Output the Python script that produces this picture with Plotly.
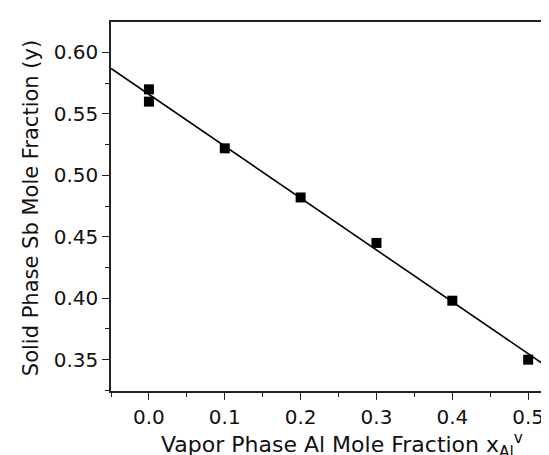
import plotly.graph_objects as go

# Measured data (vapor phase Al mole fraction vs solid phase Sb mole fraction)
x_vapor_al = [0.0, 0.0, 0.1, 0.2, 0.3, 0.4, 0.5]
y_solid_sb = [0.570, 0.560, 0.522, 0.482, 0.445, 0.398, 0.350]

# Linear fit line, end points
fit_x = [-0.05, 0.54]
fit_y = [0.587, 0.338]

x_ticks = [0.0, 0.1, 0.2, 0.3, 0.4, 0.5]
y_ticks = [0.35, 0.40, 0.45, 0.50, 0.55, 0.60]

x_title = "Vapor Phase Al Mole Fraction x<sub>Al</sub><sup>v</sup>"
y_title = "Solid Phase Sb Mole Fraction (y)"

FONT = "DejaVu Sans"

fig = go.Figure()
fig.add_trace(go.Scatter(
    x=fit_x, y=fit_y, mode="lines",
    line=dict(color="black", width=1.6),
    showlegend=False, hoverinfo="skip",
))
fig.add_trace(go.Scatter(
    x=x_vapor_al, y=y_solid_sb, mode="markers",
    marker=dict(symbol="square", size=10, color="black"),
    showlegend=False,
))

axis_common = dict(
    showgrid=False, zeroline=False,
    showline=True, linecolor="#222", linewidth=1.5,
    ticks="outside", ticklen=7, tickwidth=1.3, tickcolor="#222",
    tickfont=dict(family=FONT, size=20, color="#111"),
)

fig.update_xaxes(
    **axis_common,
    range=[-0.05, 0.538],
    tickvals=x_ticks, tickformat=".1f",
    mirror=True,
    minor=dict(dtick=0.05, tick0=0, ticks="outside", ticklen=4, tickwidth=1.3, tickcolor="#222"),
)
fig.update_yaxes(
    **axis_common,
    range=[0.3245, 0.6248],
    tickvals=y_ticks, tickformat=".2f",
    minor=dict(dtick=0.025, tick0=0, ticks="outside", ticklen=4, tickwidth=1.3, tickcolor="#222"),
)

fig.add_annotation(
    text=x_title, xref="paper", yref="paper", x=0.518, y=-0.147,
    xanchor="center", yanchor="middle", showarrow=False,
    font=dict(family=FONT, size=22, color="#111"),
)
fig.add_annotation(
    text=y_title, xref="paper", yref="paper", x=-0.179, y=0.496,
    xanchor="center", yanchor="middle", showarrow=False, textangle=-90,
    font=dict(family=FONT, size=21, color="#111"),
)

fig.update_layout(
    width=549, height=455,
    margin=dict(l=103, r=0, t=14, b=72),
    plot_bgcolor="white", paper_bgcolor="white",
    font=dict(family=FONT),
)

fig.write_html("out.html")
